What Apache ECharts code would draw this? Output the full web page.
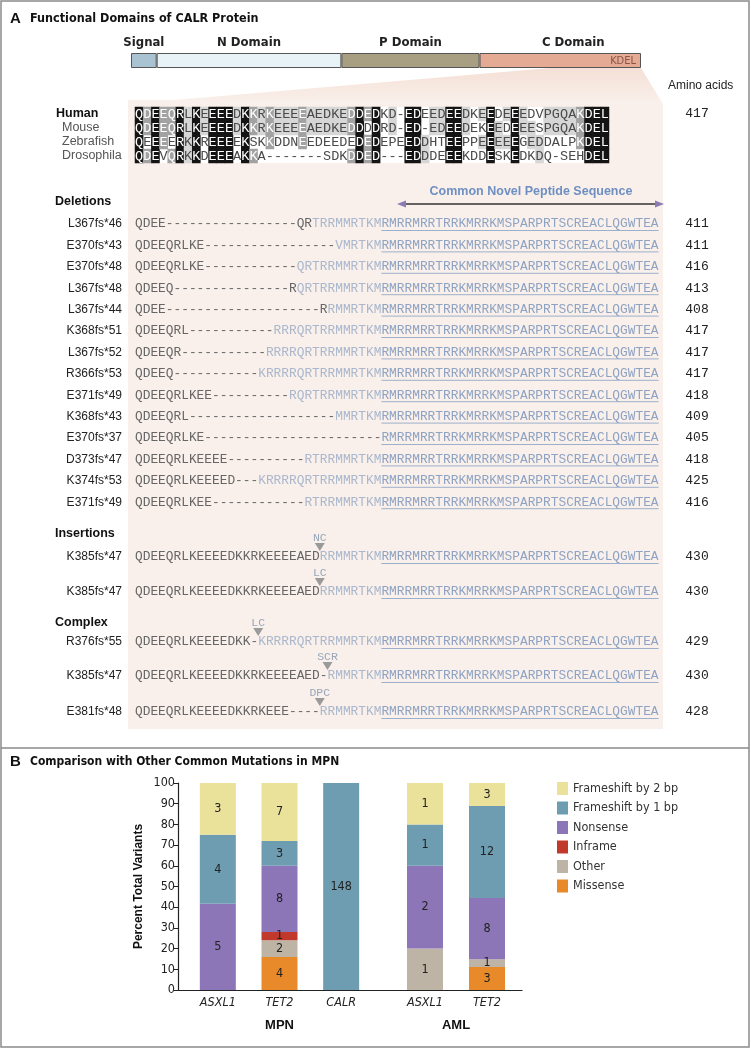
<!DOCTYPE html>
<html><head><meta charset="utf-8">
<script src="https://cdn.jsdelivr.net/npm/echarts@6/dist/echarts.min.js"></script>
<style>html,body{margin:0;padding:0;background:#fff}#c{width:751px;height:1049px}</style>
</head><body><div id="c"></div>
<script>
// ===== Panel A data =====
const domainNames = ['Signal', 'N Domain', 'P Domain', 'C Domain'];
const domainLengths = [21, 151, 113, 132];          // amino acids (sum 417)
const domainColors = ['#A9C3D3', '#E7F3F7', '#A89F82', '#E4AA93'];

const speciesNames = ['Human', 'Mouse', 'Zebrafish', 'Drosophila'];
const speciesSeqs = [
  'QDEEQRLKEEEEDKKRKEEEEAEDKEDDEDKD-EDEEDEEDKEEDEEEDVPGQAKDEL',
  'QDEEQRLKEEEEDKKRKEEEEAEDKEDDDDRD-ED-EDEEDEKEEDEEESPGQAKDEL',
  'QEEEERKKREEEEKSKKDDNEEDEEDEDEDEPEEDDHTEEPPEEEEEGEDDALPKDEL',
  'QDEVQRKKDEEEAKKA-------SDKDDED---EDDDEEEKDDESKEDKDQ-SEHDEL'
];
const humanLength = 417;

const commonPeptide = 'RMRRMRRTRRKMRRKMSPARPRTSCREACLQGWTEA';

const deletionNames = ['L367fs*46','E370fs*43','E370fs*48','L367fs*48','L367fs*44','K368fs*51','L367fs*52',
  'R366fs*53','E371fs*49','K368fs*43','E370fs*37','D373fs*47','K374fs*53','E371fs*49'];
const deletionNative = [
  'QDEE' + '-'.repeat(17) + 'QR',
  'QDEEQRLKE' + '-'.repeat(17),
  'QDEEQRLKE' + '-'.repeat(12),
  'QDEEQ' + '-'.repeat(15) + 'R',
  'QDEE' + '-'.repeat(20) + 'R',
  'QDEEQRL' + '-'.repeat(11),
  'QDEEQR' + '-'.repeat(11),
  'QDEEQ' + '-'.repeat(11),
  'QDEEQRLKEE' + '-'.repeat(10),
  'QDEEQRL' + '-'.repeat(19),
  'QDEEQRLKE' + '-'.repeat(23),
  'QDEEQRLKEEEE' + '-'.repeat(10),
  'QDEEQRLKEEEED---',
  'QDEEQRLKEE' + '-'.repeat(12)
];
const deletionNovel = ['TRRMMRTKM','VMRTKM','QRTRRMMRTKM','QRTRRMMRTKM','RMMRTKM','RRRQRTRRMMRTKM',
  'RRRRQRTRRMMRTKM','KRRRRQRTRRMMRTKM','RQRTRRMMRTKM','MMRTKM','','RTRRMMRTKM','KRRRRQRTRRMMRTKM','RTRRMMRTKM'];
const deletionLengths = [411, 411, 416, 413, 408, 417, 417, 417, 418, 409, 405, 418, 425, 416];

const insertionNames = ['K385fs*47', 'K385fs*47'];
const insertionNative = ['QDEEQRLKEEEEDKKRKEEEEAED', 'QDEEQRLKEEEEDKKRKEEEEAED'];
const insertionNovel = ['RRMMRTKM', 'RRMMRTKM'];
const insertionMarks = ['NC', 'LC'];
const insertionLengths = [430, 430];

const complexNames = ['R376fs*55', 'K385fs*47', 'E381fs*48'];
const complexNative = ['QDEEQRLKEEEEDKK-', 'QDEEQRLKEEEEDKKRKEEEEAED-', 'QDEEQRLKEEEEDKKRKEEE----'];
const complexNovel = ['KRRRRQRTRRMMRTKM', 'RMMRTKM', 'RRMMRTKM'];
const complexMarks = ['LC', 'SCR', 'DPC'];
const complexLengths = [429, 430, 428];

// ===== Panel B data =====
const mpnGenes = ['ASXL1', 'TET2', 'CALR'];
const amlGenes = ['ASXL1', 'TET2'];
const typeNames = ['Missense', 'Other', 'Inframe', 'Nonsense', 'Frameshift by 1 bp', 'Frameshift by 2 bp'];
const typeColors = ['#E8892A', '#BEB4A6', '#C1392B', '#8C76B8', '#6E9DB2', '#EAE19B'];
const mpnMissense = [0, 4, 0];
const mpnOther    = [0, 2, 0];
const mpnInframe  = [0, 1, 0];
const mpnNonsense = [5, 8, 0];
const mpnFs1      = [4, 3, 148];
const mpnFs2      = [3, 7, 0];
const amlMissense = [0, 3];
const amlOther    = [1, 1];
const amlInframe  = [0, 0];
const amlNonsense = [2, 8];
const amlFs1      = [1, 12];
const amlFs2      = [1, 3];
const legendOrder = ['Frameshift by 2 bp', 'Frameshift by 1 bp', 'Nonsense', 'Inframe', 'Other', 'Missense'];

// ===== fonts =====
const MONO = "'Liberation Mono','DejaVu Sans Mono',monospace";
const SANS = "'Liberation Sans','DejaVu Sans',sans-serif";
const NARROW = "'Liberation Sans Narrow','DejaVu Sans Condensed','Liberation Sans',sans-serif";

// ===== graphic (figure furniture, text) =====
const X0 = 135, CW = 7.7, SEQ_FONT = '12.83px ' + MONO;
const g = [];
function txt(x, y, text, font, fill, align, z) {
  g.push({type: 'text', x: x, y: y, z: z || 50, style: {text: text, font: font, fill: fill, align: align || 'left', verticalAlign: 'middle'}});
}
// outer frame + divider
g.push({type: 'rect', z: 60, shape: {x: 1, y: 1, width: 748, height: 1046}, style: {fill: null, stroke: '#8a8a8a', lineWidth: 1.5}});
g.push({type: 'line', z: 60, shape: {x1: 1, y1: 748, x2: 749, y2: 748}, style: {stroke: '#8a8a8a', lineWidth: 1.5}});
// peach background + fan
g.push({type: 'polygon', z: -10, shape: {points: [[550, 68], [641, 68], [663, 104], [128, 104]]},
  style: {fill: {type: 'linear', x: 0, y: 0, x2: 0, y2: 1, colorStops: [{offset: 0, color: '#F5E0D6'}, {offset: 1, color: '#F9F0EB'}]}}});
g.push({type: 'rect', z: -10, shape: {x: 128, y: 100, width: 535, height: 629, r: [0, 6, 0, 0]}, style: {fill: '#F9F0EB'}});

// titles
txt(10, 19, 'A', 'bold 15px ' + SANS, '#111');
txt(30, 19, 'Functional Domains of CALR Protein', 'bold 12.5px ' + NARROW, '#111');
txt(10, 762, 'B', 'bold 15px ' + SANS, '#111');
txt(30, 762, 'Comparison with Other Common Mutations in MPN', 'bold 12px ' + NARROW, '#111');
txt(636, 61, 'KDEL', '11px ' + NARROW, '#8a5446', 'right');
txt(668, 86, 'Amino acids', '12px ' + SANS, '#222');

// species labels
txt(56, 114, speciesNames[0], 'bold 12.5px ' + SANS, '#111');
for (let i = 1; i < 4; i++) txt(62, 114 + 14 * i, speciesNames[i], '12.5px ' + SANS, '#555');
txt(697, 114, String(humanLength), '13px ' + MONO, '#222', 'center');

// header for novel peptide
txt(531, 192, 'Common Novel Peptide Sequence', 'bold 12.5px ' + SANS, '#6F8FC2', 'center');
g.push({type: 'line', z: 50, shape: {x1: 402, y1: 204, x2: 659, y2: 204}, style: {stroke: '#333', lineWidth: 1.4}});
g.push({type: 'polygon', z: 51, shape: {points: [[397, 204], [406, 200.5], [406, 207.5]]}, style: {fill: '#8B7BB5'}});
g.push({type: 'polygon', z: 51, shape: {points: [[664, 204], [655, 200.5], [655, 207.5]]}, style: {fill: '#8B7BB5'}});

function seqRow(y, name, nat, nov, len, mark) {
  txt(122, y, name, '12px ' + SANS, '#222', 'right');
  txt(X0, y, nat, SEQ_FONT, '#666');
  if (nov) txt(X0 + nat.length * CW, y, nov, SEQ_FONT, '#AAB7CC');
  const cx = X0 + (nat.length + nov.length) * CW;
  txt(cx, y, commonPeptide, SEQ_FONT, '#8EA3C3');
  g.push({type: 'line', z: 50, shape: {x1: cx, y1: y + 6.5, x2: cx + commonPeptide.length * CW, y2: y + 6.5}, style: {stroke: '#9DB0CB', lineWidth: 1}});
  txt(697, y, String(len), '13px ' + MONO, '#222', 'center');
  if (mark) {
    const mx = X0 + nat.length * CW;
    g.push({type: 'polygon', z: 52, shape: {points: [[mx - 5, y - 14], [mx + 5, y - 14], [mx, y - 6]]}, style: {fill: '#9A9A9A'}});
    txt(mx, y - 19.5, mark, '11.5px ' + MONO, '#9AA6BA', 'center');
  }
}
txt(55, 202, 'Deletions', 'bold 12.5px ' + SANS, '#111');
deletionNames.forEach((n, i) => seqRow(224 + 21.4 * i, n, deletionNative[i], deletionNovel[i], deletionLengths[i]));
txt(55, 534, 'Insertions', 'bold 12.5px ' + SANS, '#111');
const insY = [557, 592];
insertionNames.forEach((n, i) => seqRow(insY[i], n, insertionNative[i], insertionNovel[i], insertionLengths[i], insertionMarks[i]));
txt(55, 623, 'Complex', 'bold 12.5px ' + SANS, '#111');
const cxY = [642, 676, 712];
complexNames.forEach((n, i) => seqRow(cxY[i], n, complexNative[i], complexNovel[i], complexLengths[i], complexMarks[i]));

// ===== alignment heatmap data (shading by column conservation) =====
const nCols = speciesSeqs[0].length;
const heatData = [];
for (let c = 0; c < nCols; c++) {
  const counts = {};
  speciesSeqs.forEach(s => { const ch = s[c]; if (ch !== '-') counts[ch] = (counts[ch] || 0) + 1; });
  speciesSeqs.forEach((s, r) => {
    const ch = s[c];
    let lvl = 0;
    if (ch !== '-') {
      const k = counts[ch];
      lvl = k === 4 ? 3 : k === 3 ? 2 : k === 2 ? 1 : 0;
    }
    heatData.push({value: [c, r, lvl], label: {color: lvl >= 2 ? '#fff' : '#4a4a4a'}});
  });
}

// ===== series =====
const series = [];
domainNames.forEach((n, i) => {
  series.push({type: 'bar', name: n, stack: 'dom', xAxisIndex: 0, yAxisIndex: 0, barWidth: 15,
    data: [domainLengths[i]],
    itemStyle: {color: domainColors[i], borderColor: '#555', borderWidth: 1},
    label: {show: true, position: 'top', distance: 4, formatter: n, color: '#222', fontFamily: NARROW, fontWeight: 'bold', fontSize: 13,
      offset: i === 3 ? [13, 0] : [0, 0]},
    emphasis: {disabled: true}, silent: true});
});
const HEAT_IDX = series.length;
series.push({type: 'heatmap', xAxisIndex: 1, yAxisIndex: 1, data: heatData,
  label: {show: true, fontFamily: MONO, fontSize: 13.5, formatter: p => speciesSeqs[p.value[1]][p.value[0]]},
  itemStyle: {borderWidth: 0}, emphasis: {disabled: true}, silent: true});

function groupSeries(countArrays, xi) {
  const n = countArrays[0].length;
  const totals = [];
  for (let j = 0; j < n; j++) totals.push(countArrays.reduce((s, a) => s + a[j], 0));
  countArrays.forEach((cnt, t) => {
    series.push({type: 'bar', name: typeNames[t], stack: 'g' + xi, xAxisIndex: xi, yAxisIndex: xi, barWidth: 36,
      data: cnt.map((c, j) => c / totals[j] * 100),
      itemStyle: {color: typeColors[t]},
      label: {show: true, position: 'inside', color: '#222', fontFamily: NARROW, fontSize: 12.5,
        formatter: p => cnt[p.dataIndex] > 0 ? String(cnt[p.dataIndex]) : ''},
      emphasis: {disabled: true}, silent: true});
  });
}
groupSeries([mpnMissense, mpnOther, mpnInframe, mpnNonsense, mpnFs1, mpnFs2], 3);
groupSeries([amlMissense, amlOther, amlInframe, amlNonsense, amlFs1, amlFs2], 4);

const hiddenVal = {type: 'value', min: 0, max: 100, show: false, splitLine: {show: false}};
const catX = (data, grid, name) => ({type: 'category', gridIndex: grid, data: data,
  axisLine: {show: false}, axisTick: {show: false},
  axisLabel: {fontFamily: NARROW, fontStyle: 'italic', fontSize: 12.5, color: '#222', margin: 6},
  name: name, nameLocation: 'middle', nameGap: 29,
  nameTextStyle: {fontFamily: SANS, fontWeight: 'bold', fontSize: 13, color: '#111'}});

const option = {
  animation: false,
  backgroundColor: '#fff',
  grid: [
    {left: 131, width: 510, top: 53, height: 15},
    {left: X0, width: 474, top: 107, height: 56, show: true, backgroundColor: '#fff', borderWidth: 0},
    {left: 178, width: 344, top: 783, height: 207},
    {left: 187, width: 185, top: 783, height: 207},
    {left: 394, width: 124, top: 783, height: 207}
  ],
  xAxis: [
    {type: 'value', gridIndex: 0, min: 0, max: humanLength, show: false},
    {type: 'category', gridIndex: 1, data: speciesSeqs[0].split('').map((_, i) => i), show: false},
    {type: 'value', gridIndex: 2, min: 0, max: 1, axisLine: {show: true, lineStyle: {color: '#222', width: 1.2}},
      axisTick: {show: false}, axisLabel: {show: false}, splitLine: {show: false}},
    catX(mpnGenes, 3, 'MPN'),
    catX(amlGenes, 4, 'AML')
  ],
  yAxis: [
    {type: 'category', gridIndex: 0, data: ['CALR'], show: false},
    {type: 'category', gridIndex: 1, data: speciesNames, inverse: true, show: false},
    {type: 'value', gridIndex: 2, min: 0, max: 100, interval: 10,
      axisLine: {show: true, lineStyle: {color: '#222', width: 1.2}},
      axisTick: {show: true, length: 4, lineStyle: {color: '#222'}},
      axisLabel: {fontFamily: NARROW, fontSize: 12.5, color: '#222', margin: 3},
      splitLine: {show: false},
      name: 'Percent Total Variants', nameLocation: 'middle', nameGap: 33,
      nameTextStyle: {fontFamily: SANS, fontWeight: 'bold', fontSize: 12, color: '#111'}},
    Object.assign({gridIndex: 3}, hiddenVal),
    Object.assign({gridIndex: 4}, hiddenVal)
  ],
  visualMap: {type: 'piecewise', show: false, seriesIndex: HEAT_IDX, dimension: 2,
    pieces: [{value: 0, color: 'rgba(255,255,255,0)'}, {value: 1, color: '#D6D6D6'}, {value: 2, color: '#A2A2A2'}, {value: 3, color: '#141414'}]},
  legend: {data: legendOrder, orient: 'vertical', left: 557, top: 782, padding: 0, itemWidth: 11, itemHeight: 13, itemGap: 6.5,
    icon: 'rect', selectedMode: false, textStyle: {fontFamily: NARROW, fontSize: 12.5, color: '#333'}},
  graphic: {elements: g},
  series: series
};
const chart = echarts.init(document.getElementById('c'), null, {renderer: 'canvas'});
chart.setOption(option);
</script></body></html>
